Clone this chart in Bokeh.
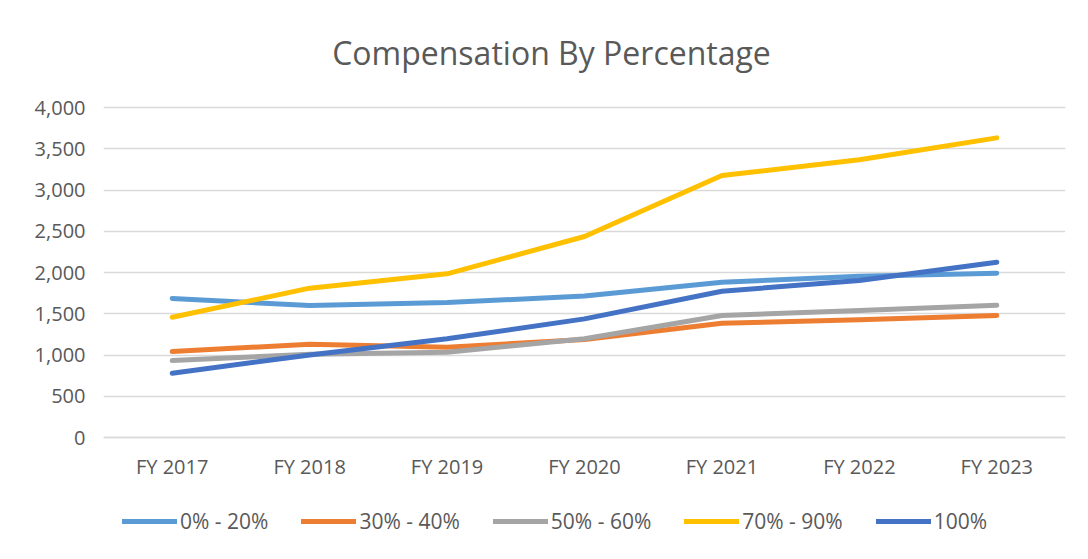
from bokeh.plotting import figure
from bokeh.models import (FactorRange, Range1d, NumeralTickFormatter, FixedTicker,
                          Legend, LegendItem, Label)
from bokeh.embed import file_html
from bokeh.resources import INLINE

years = ["FY 2017", "FY 2018", "FY 2019", "FY 2020", "FY 2021", "FY 2022", "FY 2023"]
s_0_20 = [1685, 1600, 1636, 1715, 1882, 1955, 1991]
s_30_40 = [1042, 1130, 1095, 1188, 1386, 1426, 1479]
s_50_60 = [933, 1010, 1034, 1196, 1479, 1539, 1604]
s_70_90 = [1458, 1810, 1984, 2436, 3176, 3366, 3632]
s_100 = [780, 1000, 1196, 1438, 1773, 1903, 2125]
y_ticks = [0, 500, 1000, 1500, 2000, 2500, 3000, 3500, 4000]
title_text = "Compensation By Percentage"

series = [
    ("0% - 20%", s_0_20, "#5B9BD5"),
    ("30% - 40%", s_30_40, "#ED7D31"),
    ("50% - 60%", s_50_60, "#A5A5A5"),
    ("70% - 90%", s_70_90, "#FFC000"),
    ("100%", s_100, "#4472C4"),
]

FONT = "Open Sans"
TXT = "#595959"

# layout (pixels): canvas 543 tall; data area 0..4000 spans rows 107..437
CANVAS_H = 543
DATA_TOP = 107
DATA_H = 330
FRAME_W = 962
y_max = y_ticks[-1]
per_px = y_max / DATA_H
y_top = y_max + DATA_TOP * per_px
y_bottom = y_max - (CANVAS_H - DATA_TOP) * per_px

p = figure(frame_width=FRAME_W, frame_height=CANVAS_H,
           x_range=FactorRange(*years, range_padding=0),
           y_range=Range1d(y_bottom, y_top), output_backend="svg", toolbar_location=None,
           min_border_left=103, min_border_right=7, min_border_top=0, min_border_bottom=0)
p.outline_line_color = None
p.background_fill_color = "white"
p.border_fill_color = "white"

# title placed 55px above the data top, centred at page x ~551
title_x = (551 - 103) / FRAME_W * len(years)
title_y = y_max + 55 * per_px
p.add_layout(Label(x=title_x, y=title_y, text=title_text, text_font=FONT,
                   text_font_size="32px", text_color=TXT, text_align="center",
                   text_baseline="middle"))

p.xgrid.grid_line_color = None
p.ygrid.grid_line_color = "#d9d9d9"
p.ygrid.grid_line_width = 1.5

p.yaxis.ticker = FixedTicker(ticks=y_ticks)
p.yaxis.formatter = NumeralTickFormatter(format="0,0")
for ax in (p.xaxis, p.yaxis):
    ax.axis_line_color = None
    ax.major_tick_line_color = None
    ax.minor_tick_line_color = None
    ax.major_tick_out = 0
    ax.major_tick_in = 0
    ax.major_label_text_font = FONT
    ax.major_label_text_font_size = "20px"
    ax.major_label_text_color = TXT
p.xaxis.fixed_location = 0
p.xaxis.axis_line_color = "#d9d9d9"
p.xaxis.axis_line_width = 1.5
p.yaxis.major_label_standoff = 18
p.xaxis.major_label_standoff = 15

items = []
for name, vals, col in series:
    r = p.line(years, vals, line_color=col, line_width=5, line_cap="round", line_join="round")
    items.append(LegendItem(label=name, renderers=[r]))

legend = Legend(items=items, orientation="horizontal", location=(19, 8),
                label_text_font=FONT, label_text_font_size="21px", label_text_color=TXT,
                glyph_width=55, glyph_height=20, label_standoff=3, spacing=33,
                padding=0, margin=0, border_line_color=None, background_fill_alpha=0)
p.add_layout(legend, "center")

open("out.html", "w").write(file_html(p, INLINE))
